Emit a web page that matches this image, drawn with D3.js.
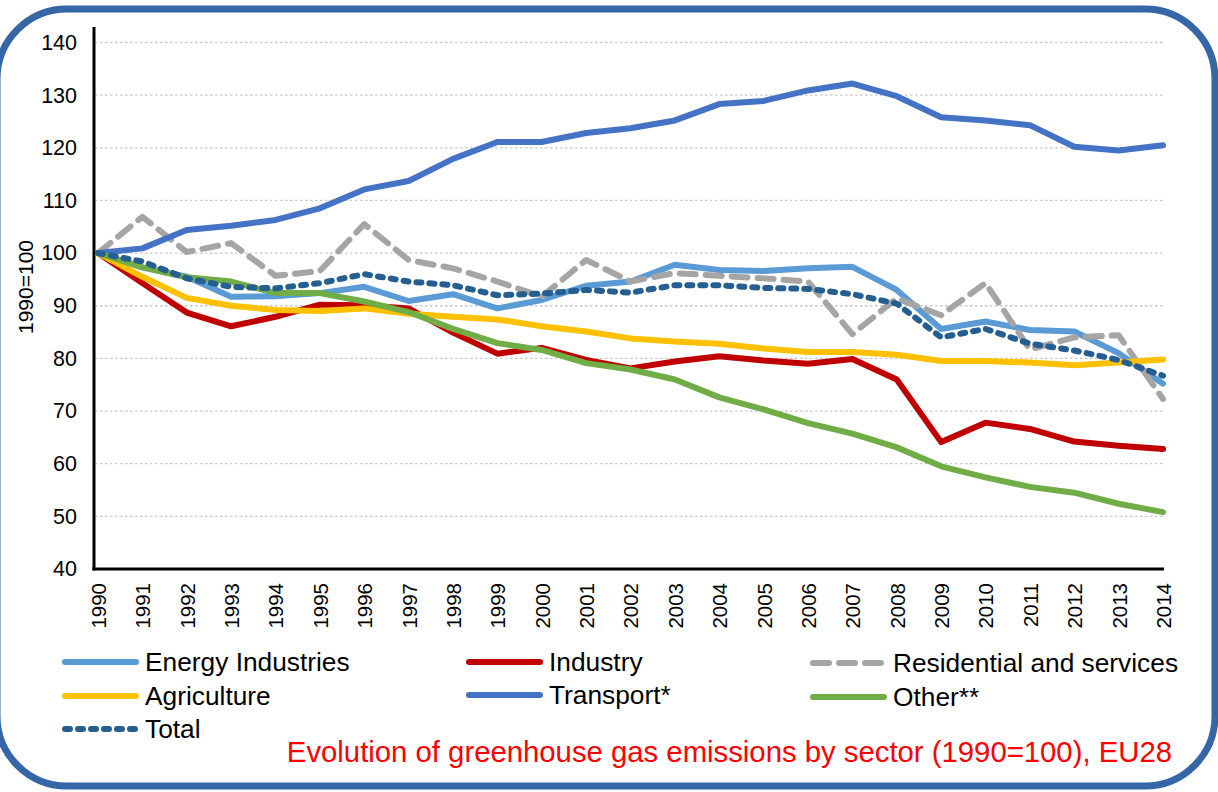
<!DOCTYPE html>
<html><head><meta charset="utf-8">
<script src="https://cdn.jsdelivr.net/npm/d3@7"></script>
<style>
body{margin:0;background:#fff;}
svg{display:block;font-family:"Liberation Sans",Arial,sans-serif;}
</style>
</head><body>
<svg id="chart" width="1218" height="792"></svg>
<script>
const years = ["1990","1991","1992","1993","1994","1995","1996","1997","1998","1999","2000","2001","2002","2003","2004","2005","2006","2007","2008","2009","2010","2011","2012","2013","2014"];
const energyIndustries = [100,97.3,95.5,91.7,91.8,92.4,93.6,90.9,92.2,89.5,91.1,93.8,94.6,97.8,96.8,96.6,97.1,97.4,93.0,85.6,87.0,85.4,85.1,81.0,75.2];
const industry = [100,94.3,88.7,86.1,87.9,90.2,90.1,89.5,84.9,80.9,82.0,79.7,78.1,79.4,80.4,79.6,79.0,79.9,76.0,64.1,67.8,66.6,64.2,63.4,62.8];
const residential = [100,106.9,100.2,101.9,95.7,96.6,105.5,98.7,97.1,94.6,91.7,98.7,94.6,96.2,95.7,95.2,94.6,84.6,91.4,88.2,94.3,81.7,84.0,84.4,72.3];
const agriculture = [100,95.5,91.5,90.0,89.2,89.0,89.5,88.5,87.9,87.4,86.1,85.1,83.8,83.2,82.8,81.9,81.2,81.2,80.7,79.5,79.5,79.2,78.7,79.2,79.8];
const transport = [100,100.9,104.4,105.2,106.3,108.5,112.1,113.7,117.9,121.1,121.1,122.8,123.7,125.2,128.3,128.9,130.9,132.2,129.8,125.8,125.2,124.3,120.2,119.5,120.5];
const other = [100,97.3,95.4,94.6,92.4,92.4,90.8,88.8,85.6,82.9,81.6,79.1,77.9,76.0,72.6,70.3,67.7,65.7,63.1,59.5,57.4,55.6,54.5,52.4,50.8];
const total = [100,98.4,95.2,93.6,93.3,94.3,96.0,94.6,93.9,92.0,92.3,93.0,92.5,93.9,93.9,93.4,93.2,92.2,90.4,84.0,85.6,82.8,81.5,79.7,76.7];

const yTicks = [40,50,60,70,80,90,100,110,120,130,140];
const seriesNames = ["Energy Industries","Industry","Residential and services","Agriculture","Transport*","Other**","Total"];
const seriesValues = [energyIndustries, industry, residential, agriculture, transport, other, total];
const seriesColors = ["#5B9BD5","#C00000","#A5A5A5","#FFC000","#4472C4","#70AD47","#255E91"];
const seriesDash = [null,null,"16 10",null,null,null,"5 8"];
const yTitle = "1990=100";
const chartTitle = "Evolution of greenhouse gas emissions by sector (1990=100), EU28";

const svg = d3.select("#chart");

// frame
svg.append("rect")
  .attr("x",-3).attr("y",9).attr("width",1218).attr("height",777)
  .attr("rx",70).attr("ry",70)
  .attr("fill","#fff").attr("stroke","#3566A5").attr("stroke-width",7);

const x = d3.scalePoint().domain(years).range([98,1163]);
const y = d3.scaleLinear().domain([40,140]).range([569,42.5]);

// gridlines
svg.append("g").selectAll("line").data(yTicks.filter(d=>d>40)).join("line")
  .attr("x1",95).attr("x2",1164)
  .attr("y1",d=>y(d)).attr("y2",d=>y(d))
  .attr("stroke","#C8C8C8").attr("stroke-width",1.3)
  .attr("stroke-dasharray","2.5 2.5");

// y axis
const yAxis = d3.axisLeft(y).tickValues(yTicks).tickSize(0).tickPadding(0).tickFormat(d3.format("d"));
const gy = svg.append("g").attr("transform","translate(77,0)").call(yAxis);
gy.select(".domain").remove();
gy.selectAll("text").attr("font-size",21.5).attr("fill","#000")
  .attr("font-family","'Liberation Sans',Arial,sans-serif");

svg.append("line").attr("x1",94).attr("x2",94).attr("y1",27).attr("y2",570.5)
  .attr("stroke","#000").attr("stroke-width",3);

// x axis
const xAxis = d3.axisBottom(x).tickSize(0).tickPadding(0);
const gx = svg.append("g").attr("transform","translate(0,569)").call(xAxis);
gx.select(".domain").remove();
gx.selectAll("text")
  .attr("font-size",20.5).attr("fill","#000")
  .attr("font-family","'Liberation Sans',Arial,sans-serif")
  .attr("transform","rotate(-90)")
  .attr("text-anchor","end")
  .attr("x",-14).attr("y",0).attr("dy","0.36em");

svg.append("line").attr("x1",92.5).attr("x2",1164).attr("y1",569).attr("y2",569)
  .attr("stroke","#000").attr("stroke-width",3);

// y title
svg.append("text")
  .attr("transform","translate(33,287) rotate(-90)")
  .attr("text-anchor","middle")
  .attr("font-size",21).attr("fill","#000")
  .text(yTitle);

// lines
const line = d3.line().x((d,i)=>x(years[i])).y(d=>y(d));
const gl = svg.append("g");
seriesValues.forEach((vals,k)=>{
  gl.append("path").datum(vals)
    .attr("d",line)
    .attr("fill","none")
    .attr("stroke",seriesColors[k])
    .attr("stroke-width",6)
    .attr("stroke-linejoin","round")
    .attr("stroke-linecap","round")
    .attr("stroke-dasharray",seriesDash[k]);
});

// legend
const legendPos = [[62,662],[466,662],[810,663],[62,696],[466,695],[810,697],[62,729]];
const lg = svg.append("g");
seriesNames.forEach((name,k)=>{
  const [lx,ly] = legendPos[k];
  lg.append("line").attr("x1",lx+3).attr("x2",lx+74).attr("y1",ly).attr("y2",ly)
    .attr("stroke",seriesColors[k]).attr("stroke-width",6)
    .attr("stroke-linecap","round")
    .attr("stroke-dasharray",seriesDash[k]);
  lg.append("text").attr("x",lx+83).attr("y",ly).attr("dy","0.36em")
    .attr("font-size",26.3).attr("fill","#000").text(name);
});

// title
svg.append("text").attr("x",1172).attr("y",762)
  .attr("text-anchor","end").attr("font-size",29.3).attr("fill","#FF0000")
  .text(chartTitle);
</script>
</body></html>
